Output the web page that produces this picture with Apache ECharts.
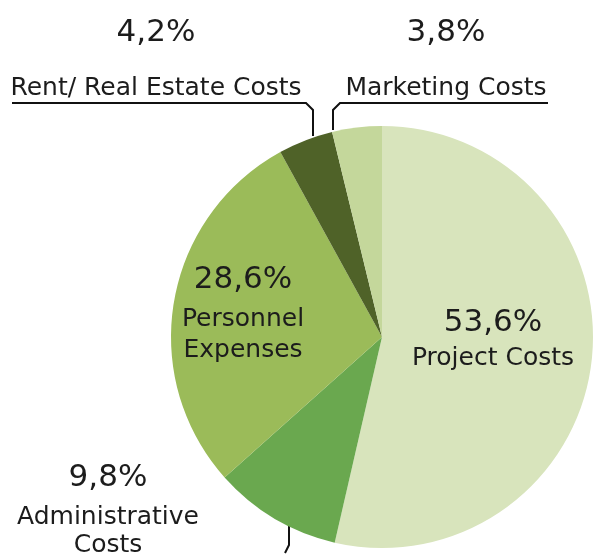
<!DOCTYPE html>
<html>
<head>
<meta charset="utf-8">
<script src="https://cdn.jsdelivr.net/npm/echarts@6/dist/echarts.min.js"></script>
<style>
  html, body { margin: 0; padding: 0; background: #fff; }
  #chart { width: 595px; height: 554px; }
</style>
</head>
<body>
<div id="chart"></div>
<script>
// cost shares in percent, clockwise from 12 o'clock
var names = ["Project Costs", "Administrative Costs", "Personnel Expenses", "Rent/ Real Estate Costs", "Marketing Costs"];
var shares = [53.6, 9.8, 28.6, 4.2, 3.8];
var colors = ["#d8e4bc", "#6aa84f", "#9bbb59", "#4f6228", "#c4d79b"];

// label block centre (x, y), line height of the % line, and leader line
var labelPos = [[493, 338], [108, 506], [243, 311], [156, 48], [446, 48]];
var pctLine = [40, 50, 48, 81, 81];
var leaders = [
  null,
  [[289, 526], [289, 545], [285, 553]],
  null,
  [[313, 136], [313, 110], [306, 103], [12, 103]],
  [[333, 130], [333, 110], [340, 103], [548, 103]]
];

function pct(v) {
  return v.toFixed(1).replace(".", ",") + "%";
}

var chart = echarts.init(document.getElementById("chart"));

var data = names.map(function (n, i) {
  var outside = leaders[i] != null;
  var text = (i == 1 || i == 2) ? n.replace(" ", "\n") : n;
  return {
    name: n,
    value: shares[i],
    itemStyle: {color: colors[i]},
    label: {
      position: outside ? "outside" : "inside",
      formatter: "{p|" + pct(shares[i]) + "}\n{t|" + text + "}",
      rich: {
        p: {fontSize: 31, lineHeight: pctLine[i], fontFamily: "DejaVu Sans", color: "#1c1c1c", align: "center"},
        t: {fontSize: 25, lineHeight: i == 1 ? 28 : 31, fontFamily: "DejaVu Sans", color: "#1c1c1c", align: "center"}
      }
    },
    labelLine: {show: outside}
  };
});

var option = {
  animation: false,
  series: [{
    type: "pie",
    center: [382, 337],
    radius: 211,
    startAngle: 90,
    clockwise: true,
    avoidLabelOverlap: false,
    silent: true,
    label: {show: true, align: "center"},
    labelLine: {lineStyle: {color: "#111", width: 2}},
    labelLayout: function (p) {
      var i = p.dataIndex;
      var o = {
        x: labelPos[i][0],
        y: labelPos[i][1],
        align: "center",
        verticalAlign: "middle"
      };
      if (leaders[i]) o.labelLinePoints = leaders[i];
      return o;
    },
    data: data
  }]
};
chart.setOption(option);
</script>
</body>
</html>
